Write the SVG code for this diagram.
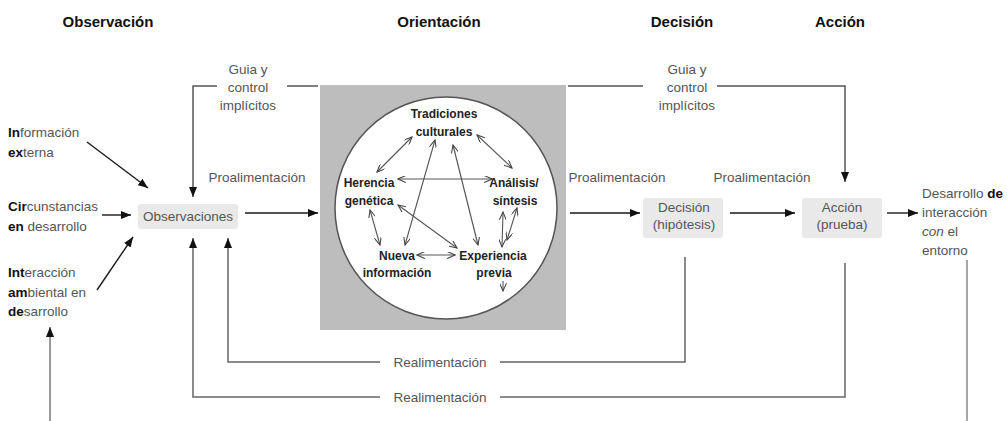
<svg xmlns="http://www.w3.org/2000/svg" width="1007" height="421" viewBox="0 0 1007 421">
<style>
text{font-family:"Liberation Sans",Arial,sans-serif;}
.hdr{font-size:15px;font-weight:bold;fill:#111;text-anchor:middle;}
.lbl{font-size:13.5px;fill:#555;}
.mid{text-anchor:middle;}
.blk{fill:#111;font-weight:bold;}
.cn{font-size:12px;font-weight:bold;fill:#222;text-anchor:middle;}
.box{fill:#e9e9e9;}
.main{fill:none;stroke:#1a1a1a;stroke-width:1.4;}
.guide{fill:none;stroke:#555;stroke-width:1.5;}
.fb{fill:none;stroke:#666;stroke-width:1.5;}
.inner{fill:none;stroke:#555;stroke-width:1.1;}
</style>
<defs>
<marker id="ah" viewBox="0 0 10 8" refX="10" refY="4" markerWidth="10" markerHeight="8" markerUnits="userSpaceOnUse" orient="auto"><path d="M0,0 L10,4 L0,8 z" fill="#111"/></marker>
<marker id="oh" viewBox="0 0 10 8" refX="9" refY="4" markerWidth="9" markerHeight="7" markerUnits="userSpaceOnUse" orient="auto-start-reverse"><path d="M0,0 L9,4 L0,8" fill="none" stroke="#444" stroke-width="1.2"/></marker>
</defs>
<rect width="1007" height="421" fill="#fff"/>

<g id="headers">
<text class="hdr" x="108" y="27">Observación</text>
<text class="hdr" x="439" y="27">Orientación</text>
<text class="hdr" x="682" y="27">Decisión</text>
<text class="hdr" x="840" y="27">Acción</text>
</g>

<g id="orientacion">
<rect x="320" y="85" width="246" height="245" fill="#bdbdbd"/>
<circle cx="446" cy="208" r="111" fill="#fff" stroke="#555" stroke-width="1.5"/>
</g>

<g id="n-tradiciones"><text class="cn" x="444" y="118">Tradiciones</text><text class="cn" x="444" y="136">culturales</text></g>
<g id="n-herencia"><text class="cn" x="369" y="187">Herencia</text><text class="cn" x="369" y="205">genética</text></g>
<g id="n-analisis"><text class="cn" x="514" y="187">Análisis/</text><text class="cn" x="515" y="205">síntesis</text></g>
<g id="n-nueva"><text class="cn" x="397" y="260">Nueva</text><text class="cn" x="397" y="277">información</text></g>
<g id="n-experiencia"><text class="cn" x="493" y="260">Experiencia</text><text class="cn" x="494" y="277">previa</text></g>

<g id="inner-connectors" class="inner">
<path d="M412,137 L377,172" marker-start="url(#oh)" marker-end="url(#oh)"/>
<path d="M477,135 L512,168" marker-start="url(#oh)" marker-end="url(#oh)"/>
<path d="M398,179 L492,179" marker-start="url(#oh)" marker-end="url(#oh)"/>
<path d="M435,140 L405,245" marker-start="url(#oh)" marker-end="url(#oh)"/>
<path d="M453,145 L478,245" marker-start="url(#oh)" marker-end="url(#oh)"/>
<path d="M398,205 L457,248" marker-start="url(#oh)" marker-end="url(#oh)"/>
<path d="M370,210 L380,245" marker-start="url(#oh)" marker-end="url(#oh)"/>
<path d="M417,255 L455,255" marker-start="url(#oh)" marker-end="url(#oh)"/>
<path d="M503,212 L502,247" marker-start="url(#oh)" marker-end="url(#oh)"/>
<path d="M517,208 L507,240" marker-start="url(#oh)" marker-end="url(#oh)"/>
<path d="M503,281 L503,291" marker-end="url(#oh)"/>
</g>

<g id="n-observaciones">
<rect class="box" x="138" y="204" width="100" height="25" rx="3"/>
<text class="lbl mid" x="188" y="221">Observaciones</text>
</g>
<g id="n-decision">
<rect class="box" x="643" y="198" width="80" height="40" rx="3"/>
<text class="lbl mid" x="684" y="212">Decisión</text>
<text class="lbl mid" x="684" y="229">(hipótesis)</text>
</g>
<g id="n-accion">
<rect class="box" x="802" y="198" width="80" height="40" rx="3"/>
<text class="lbl mid" x="842" y="212">Acción</text>
<text class="lbl mid" x="842" y="229">(prueba)</text>
</g>

<g id="inputs">
<text class="lbl" x="8" y="137"><tspan class="blk">In</tspan>formación</text>
<text class="lbl" x="8" y="157"><tspan class="blk">ex</tspan>terna</text>
<text class="lbl" x="8" y="211"><tspan class="blk">Cir</tspan>cunstancias</text>
<text class="lbl" x="8" y="231"><tspan class="blk">en</tspan> desarrollo</text>
<text class="lbl" x="8" y="277"><tspan class="blk">Int</tspan>eracción</text>
<text class="lbl" x="8" y="297"><tspan class="blk">am</tspan>biental en</text>
<text class="lbl" x="8" y="316"><tspan class="blk">de</tspan>sarrollo</text>
</g>

<g id="output">
<text class="lbl" x="922" y="198">Desarrollo <tspan class="blk">de</tspan></text>
<text class="lbl" x="922" y="217">interacción</text>
<text class="lbl" x="922" y="236"><tspan font-style="italic">con</tspan> el</text>
<text class="lbl" x="922" y="255">entorno</text>
</g>

<g id="labels">
<text class="lbl mid" x="248" y="74">Guia y</text>
<text class="lbl mid" x="248" y="92">control</text>
<text class="lbl mid" x="248" y="110">implícitos</text>
<text class="lbl mid" x="687" y="74">Guia y</text>
<text class="lbl mid" x="687" y="92">control</text>
<text class="lbl mid" x="687" y="110">implícitos</text>
<text class="lbl mid" x="257" y="182">Proalimentación</text>
<text class="lbl mid" x="617" y="182">Proalimentación</text>
<text class="lbl mid" x="762" y="182">Proalimentación</text>
<text class="lbl mid" x="440" y="367">Realimentación</text>
<text class="lbl mid" x="440" y="402">Realimentación</text>
</g>

<g id="connectors">
<path class="main" d="M87,142 L148,188" marker-end="url(#ah)"/>
<path class="main" d="M102,215 L131,215" marker-end="url(#ah)"/>
<path class="main" d="M97,290 L133,237" marker-end="url(#ah)"/>
<path d="M50,421 V327" fill="none" stroke="#999" stroke-width="2" marker-end="url(#ah)"/>
<path class="main" d="M245,213 H318" marker-end="url(#ah)"/>
<path class="main" d="M570,213 H640" marker-end="url(#ah)"/>
<path class="main" d="M730,213 H795" marker-end="url(#ah)"/>
<path class="main" d="M887,213 H918" marker-end="url(#ah)"/>
<path class="guide" d="M318,86 H287"/>
<path class="guide" d="M217,86 H193 V197" marker-end="url(#ah)"/>
<path class="guide" d="M568,86 H643"/>
<path class="guide" d="M717,86 H845 V182" marker-end="url(#ah)"/>
<path class="fb" d="M685,257 V362 H500"/>
<path class="fb" d="M380,362 H228 V238" marker-end="url(#ah)"/>
<path class="fb" d="M845,263 V397 H500"/>
<path class="fb" d="M380,397 H193 V238" marker-end="url(#ah)"/>
<path d="M967,260 V421" fill="none" stroke="#888" stroke-width="1.5"/>
</g>
</svg>
